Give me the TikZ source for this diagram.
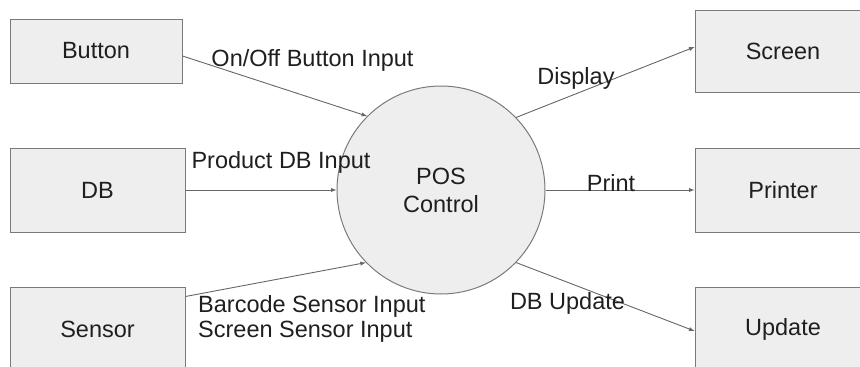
\documentclass[tikz,border=0pt]{standalone}
\usepackage{fontspec}
\setmainfont{Liberation Sans}
\definecolor{boxfill}{HTML}{EEEEEE}
\definecolor{boxline}{HTML}{7A7A7A}
\definecolor{flowline}{HTML}{666666}
\definecolor{ink}{HTML}{1F1F1F}

\begin{document}
\begin{tikzpicture}[x=1pt,y=-1pt,
    font=\fontsize{23.5pt}{28pt}\selectfont,
    entity/.style={draw=boxline,fill=boxfill,line width=1pt,text=ink,minimum width=176pt,minimum height=84pt,inner sep=0pt},
    process/.style={circle,draw=boxline,fill=boxfill,line width=1pt,text=ink,minimum size=208pt,inner sep=0pt,align=center},
    flow/.style={-latex,draw=flowline,line width=0.9pt},
    flowlabel/.style={text=ink,inner sep=0pt}]
            \useasboundingbox (0,0) rectangle (860,367);
            \node [entity,minimum width=172pt,minimum height=64pt] (button) at (96,51) {Button};
            \node [entity,minimum width=175pt] (db) at (97.5,190) {DB};
            \node [entity,minimum width=175pt] (sensor) at (97.5,329) {Sensor};
            \node [entity,minimum height=82pt] (screen) at (783,51) {Screen};
            \node [entity] (printer) at (783,190) {Printer};
            \node [entity] (update) at (783,329) {Update};
            \node [process] (pos) at (441,190) {POS\\Control};
            \draw [flow] ([yshift=-5pt]button.east) -- (pos.135);
            \draw [flow] (db.east) -- (pos.west);
            \draw [flow] ([yshift=-10pt]sensor.north east) -- (pos.224);
            \draw [flow] (pos.44) -- ([yshift=4pt]screen.west);
            \draw [flow] (pos.east) -- (printer.west);
            \draw [flow] (pos.-44) -- ([yshift=-2pt]update.west);
            \node [flowlabel] (lbutton) at (312.5,60) {On/Off Button Input};
            \node [flowlabel] (ldb) at (281,162) {Product DB Input};
            \node [flowlabel,align=left,anchor=west,font=\fontsize{23.5pt}{25pt}\selectfont] (lsensor) at (198,318.5) {Barcode Sensor Input\\Screen Sensor Input};
            \node [flowlabel] (lscreen) at (576,78) {Display};
            \node [flowlabel] (lprinter) at (611,183) {Print};
            \node [flowlabel] (lupdate) at (567.5,303) {DB Update};
        \end{tikzpicture}
\end{document}
